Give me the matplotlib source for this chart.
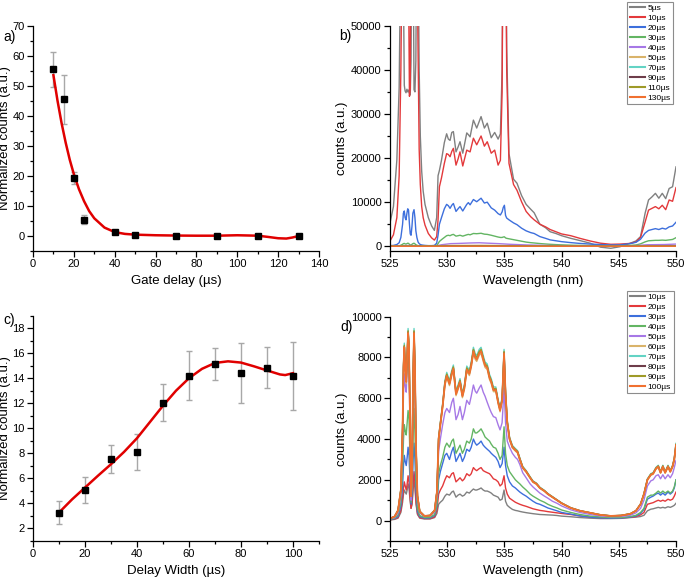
import numpy as np
import matplotlib
matplotlib.use('Agg')
import matplotlib.pyplot as plt
from matplotlib.ticker import MultipleLocator

plt.rcParams['font.family'] = ['Liberation Sans', 'DejaVu Sans']
plt.rcParams['axes.linewidth'] = 0.9

# ---------------- panel a: gate delay ----------------
delay_x = [10, 15, 20, 25, 40, 50, 70, 90, 110, 130]
delay_y = [55.5, 45.5, 19.3, 5.4, 1.3, 0.3, 0.0, 0.0, 0.0, 0.0]
delay_err = [5.8, 8.2, 2.0, 1.6, 0.7, 0.5, 0.4, 0.4, 0.4, 0.4]
# fitted curve
fit_a_x = [10, 12, 14, 16, 18, 20, 22.5, 25, 27.5, 30, 35, 40, 45, 50, 60, 70, 80,
           90, 100, 110, 115, 120, 124, 127, 130]
fit_a_y = [53.5, 45.0, 37.5, 31.0, 25.3, 20.5, 15.5, 11.5, 8.2, 5.8, 2.7, 1.2, 0.6,
           0.35, 0.15, 0.05, 0.0, 0.0, 0.15, 0.0, -0.4, -0.85, -0.95, -0.6, -0.1]

# ---------------- panel c: delay width ----------------
width_x = [10, 20, 30, 40, 50, 60, 70, 80, 90, 100]
width_y = [3.25, 5.05, 7.52, 8.13, 12.05, 14.2, 15.12, 14.45, 14.83, 14.19]
width_err = [0.9, 1.05, 1.12, 1.44, 1.5, 1.98, 1.28, 2.4, 1.64, 2.72]
fit_c_x = [10, 15, 20, 25, 30, 35, 40, 45, 50, 55, 60, 65, 70, 75, 80, 85, 90, 95, 97, 100]
fit_c_y = [3.25, 4.3, 5.25, 6.2, 7.12, 8.1, 9.2, 10.5, 11.8, 13.0, 14.0, 14.75, 15.22,
           15.35, 15.25, 14.95, 14.62, 14.3, 14.25, 14.4]

# ---------------- panel b: spectra vs gate delay ----------------
wl_b = [525.0, 525.3, 525.6, 525.8, 525.95, 526.1, 526.17, 526.25, 526.32, 526.4,
        526.48, 526.55, 526.62, 526.7, 526.77, 526.84, 526.92, 527.0, 527.1, 527.18,
        527.26, 527.35, 527.45, 527.55, 527.65, 527.77, 527.9, 528.06, 528.35, 528.64,
        528.88, 529.08, 529.2, 529.32, 529.5, 529.75, 529.95, 530.1, 530.25, 530.4,
        530.54, 530.77, 530.95, 531.12, 531.36, 531.71, 531.85, 532.0, 532.29, 532.58,
        532.96, 533.25, 533.5, 533.85, 534.15, 534.45, 534.65, 534.8, 534.9, 535.0,
        535.1, 535.2, 535.4, 535.8, 536.1, 536.5, 536.9, 537.3, 537.6, 538.1,
        538.6, 539.0, 539.5, 540.0, 540.8, 541.6, 542.5, 543.4, 544.3, 545.1,
        546.0, 546.5, 546.9, 547.3, 547.6, 547.9, 548.2, 548.5, 548.8, 549.1,
        549.4, 549.7, 550.0]
b_5us = [5300, 9000, 19600, 36000, 70000, 80000, 60000, 36500, 35200, 34800,
         35600, 35000, 35400, 34600, 34300, 42000, 80000, 80000, 35500, 35000,
         42000, 80000, 70000, 40000, 25000, 17000, 12500, 9500, 6500, 4600,
         3600, 6500, 16000, 17200, 19500, 23500, 25500, 24300, 24000, 25800,
         26000, 21400, 22500, 23700, 21100, 25700, 25300, 24800, 28600, 26800,
         29400, 26800, 27900, 24600, 25800, 24300, 25500, 40000, 80000, 90000,
         80000, 45000, 21000, 15200, 14300, 11500, 9500, 8400, 7600, 5000,
         4200, 3300, 2900, 2400, 1800, 1300, 700, -200, -450, -100,
         700, 1200, 2200, 7500, 10500, 11200, 12000, 10900, 12000, 10800,
         13100, 13500, 18000]
b_10us = [1200, 2600, 6500, 16000, 40000, 80000, 90000, 90000, 85000, 80000,
          80000, 75000, 60000, 34000, 36000, 80000, 90000, 90000, 85000, 80000,
          80000, 70000, 45000, 22000, 14000, 9000, 6500, 4800, 2900, 1900,
          1400, 2200, 6000, 13500, 15500, 18800, 21000, 20800, 20300, 21500,
          22200, 18400, 19800, 21400, 18200, 21800, 21600, 21400, 24500, 23000,
          25000, 22700, 23700, 21100, 21800, 18400, 19500, 35000, 80000, 90000,
          75000, 40000, 18800, 14000, 12700, 10100, 7900, 6700, 6000, 5000,
          4400, 3800, 3300, 2800, 2400, 1800, 1200, 700, 450, 500,
          650, 1000, 2000, 5500, 8200, 8600, 9000, 8500, 9300, 8300,
          10500, 10200, 13300]
b_20us = [150, 200, 400, 800, 2000, 5000, 7500, 8000, 6500, 6000,
          7500, 8500, 8200, 5000, 2800, 2500, 4500, 7500, 8300, 6500,
          3500, 2000, 1000, 600, 400, 300, 250, 200, 150, 150,
          200, 700, 2500, 5000, 6500, 8500, 9500, 9200, 8600, 9300,
          9700, 7900, 8500, 9000, 8000, 9500, 9900, 9400, 10600, 10100,
          10900, 9800, 10000, 8700, 8200, 7400, 7100, 7800, 8800, 9300,
          7000, 6400, 6000, 5300, 4900, 4100, 3500, 3100, 2900, 2200,
          1800, 1450, 1250, 1050, 830, 650, 500, 400, 300, 320,
          600, 900, 1600, 3000, 3600, 3800, 4000, 3800, 4100, 3900,
          4400, 4600, 5450]
b_30us = [50, 60, 80, 120, 250, 450, 600, 650, 550, 500,
          600, 700, 650, 450, 300, 300, 450, 600, 700, 550,
          350, 250, 150, 100, 80, 60, 50, 50, 40, 40,
          60, 200, 600, 1100, 1500, 2000, 2400, 2500, 2400, 2600,
          2700, 2300, 2400, 2500, 2300, 2600, 2700, 2600, 2900, 2850,
          2950, 2750, 2700, 2500, 2300, 2100, 2000, 2000, 2100, 2150,
          1900, 1800, 1700, 1500, 1350, 1150, 950, 820, 750, 620,
          520, 450, 380, 320, 250, 200, 150, 120, 100, 110,
          200, 300, 550, 1000, 1250, 1300, 1350, 1350, 1400, 1350,
          1450, 1550, 1950]
wl_b40 = [525, 526.2, 526.6, 527.1, 527.6, 528.9, 529.5, 530.3, 531, 532, 532.8, 533.6,
          534.5, 535.5, 537, 539, 541, 543, 545, 546.5, 547.5, 549, 550]
b_40us = [20, 150, 180, 160, 30, 20, 350, 600, 650, 750, 800, 700,
          600, 450, 300, 180, 120, 80, 90, 150, 350, 400, 500]
wl_low = [525, 527, 530, 533, 536, 540, 545, 548, 550]
b_50us = [10, 40, 180, 220, 120, 60, 40, 100, 150]
b_70us = [5, 20, 90, 110, 60, 30, 20, 50, 80]
b_90us = [0, 10, 50, 60, 30, 15, 10, 30, 40]
b_110us = [0, 5, 30, 35, 20, 10, 5, 15, 20]
b_130us = [0, 0, 10, 15, 10, 5, 0, 5, 10]
labels_b = ['5µs', '10µs', '20µs', '30µs', '40µs', '50µs', '70µs', '90µs', '110µs', '130µs']

# ---------------- panel d: spectra vs delay width ----------------
wl_d = [525.0, 525.4, 525.7, 525.95, 526.1, 526.18, 526.25, 526.33, 526.42, 526.5,
        526.58, 526.66, 526.75, 526.84, 526.93, 527.02, 527.1, 527.18, 527.28, 527.4,
        527.6, 528.0, 528.5, 528.9, 529.1, 529.25, 529.4, 529.6, 529.8, 529.96,
        530.2, 530.4, 530.54, 530.77, 530.95, 531.12, 531.33, 531.5, 531.71, 531.94,
        532.1, 532.29, 532.45, 532.58, 532.8, 532.96, 533.15, 533.31, 533.5, 533.7,
        533.85, 534.04, 534.25, 534.45, 534.62, 534.8, 534.97, 535.1, 535.25, 535.45,
        535.7, 535.96, 536.15, 536.35, 536.6, 536.9, 537.25, 537.5, 537.8, 538.1,
        538.5, 538.8, 539.2, 539.6, 540.0, 540.8, 541.6, 542.5, 543.4, 544.3,
        545.2, 546.0, 546.5, 546.9, 547.2, 547.5, 547.8, 548.0, 548.25, 548.45,
        548.65, 548.85, 549.05, 549.3, 549.5, 549.7, 549.85, 550.0]
d_10us = [30, 60, 120, 400, 900, 1300, 1500, 1400, 1300, 1500,
          1800, 1600, 1000, 600, 800, 1500, 2000, 1600, 800, 300,
          120, 80, 80, 150, 350, 800, 900, 1000, 1200, 1300,
          1250, 1400, 1450, 1150, 1250, 1300, 1200, 1250, 1400, 1350,
          1450, 1550, 1500, 1500, 1550, 1600, 1500, 1450, 1450, 1400,
          1350, 1250, 1200, 1150, 1000, 1050, 1500, 950, 750, 650,
          550, 500, 480, 450, 420, 390, 360, 340, 320, 300,
          290, 280, 270, 250, 220, 190, 150, 120, 100, 100,
          110, 150, 170, 200, 260, 480, 560, 580, 620, 650,
          620, 650, 620, 680, 650, 700, 750, 850]
d_20us = [40, 80, 150, 500, 1100, 1600, 1900, 1700, 1500, 1800,
          2200, 1900, 1200, 600, 900, 1800, 2400, 1900, 900, 350,
          150, 100, 100, 180, 500, 1300, 1500, 1700, 2000, 2200,
          2100, 2300, 2350, 1900, 2000, 2100, 1950, 2050, 2300, 2200,
          2300, 2600, 2500, 2450, 2550, 2600, 2450, 2400, 2350, 2300,
          2200, 2050, 2000, 1900, 1700, 1800, 2200, 1600, 1300, 1100,
          1000, 900, 850, 800, 750, 700, 630, 580, 540, 500,
          470, 440, 410, 380, 350, 300, 230, 170, 150, 140,
          140, 160, 200, 280, 400, 800, 850, 880, 950, 1000,
          950, 1000, 950, 1050, 1000, 1050, 1200, 1400]
d_30us = [50, 100, 200, 700, 1700, 2700, 3200, 2900, 2700, 3100,
          3600, 3200, 2000, 800, 1300, 3000, 3800, 3000, 1400, 450,
          200, 120, 130, 250, 700, 2000, 2400, 2800, 3200, 3300,
          3000, 3400, 3600, 2900, 3100, 3300, 2900, 3100, 3500, 3400,
          3600, 4000, 3800, 3700, 3800, 3900, 3700, 3600, 3500, 3400,
          3300, 3200, 3100, 2900, 2600, 2800, 3600, 2700, 2200, 1900,
          1700, 1600, 1500, 1400, 1300, 1200, 1050, 950, 850, 800,
          700, 620, 550, 480, 400, 320, 230, 170, 140, 120,
          130, 170, 230, 350, 550, 1050, 1150, 1200, 1300, 1350,
          1250, 1350, 1250, 1400, 1300, 1400, 1600, 2000]
d_40us = [60, 120, 280, 900, 2500, 4000, 4700, 4400, 4200, 4800,
          5400, 5000, 3000, 900, 1700, 4200, 5500, 4300, 1900, 600,
          250, 150, 160, 300, 800, 2300, 2700, 3100, 3600, 3800,
          3600, 3900, 4000, 3300, 3500, 3700, 3300, 3500, 3900, 3800,
          4000, 4500, 4300, 4300, 4400, 4500, 4300, 4100, 4000, 3900,
          3750, 3600, 3550, 3300, 3000, 3200, 4600, 3300, 2700, 2400,
          2200, 2000, 1900, 1800, 1650, 1500, 1300, 1200, 1100, 1000,
          900, 800, 700, 620, 520, 400, 300, 220, 180, 150,
          150, 200, 260, 400, 600, 1150, 1250, 1250, 1350, 1450,
          1350, 1450, 1350, 1450, 1350, 1450, 1650, 2000]
d_50us = [80, 150, 380, 1200, 3800, 6300, 7200, 6600, 6300, 7500,
          8300, 7600, 4600, 1000, 2200, 6500, 8600, 7000, 3200, 1000,
          380, 200, 220, 420, 1200, 3400, 4000, 4700, 5300, 5500,
          5300, 5800, 6000, 4950, 5200, 5600, 4950, 5300, 5900, 5700,
          6100, 6650, 6350, 6250, 6500, 6650, 6300, 6100, 5800, 5500,
          5300, 5100, 5050, 4700, 4450, 4800, 6500, 4800, 3900, 3600,
          3300, 3100, 3000, 2750, 2350, 2100, 1800, 1650, 1500, 1350,
          1200, 1100, 950, 850, 720, 530, 400, 300, 230, 190,
          200, 260, 380, 600, 1000, 1700, 1950, 2000, 2200, 2250,
          2050, 2250, 2050, 2250, 2100, 2300, 2600, 2950]
d_100us = [100, 200, 500, 1500, 4500, 7500, 8500, 7500, 6800, 8000,
           9200, 8500, 5000, 1200, 2500, 7000, 9200, 7500, 3500, 1200,
           450, 230, 250, 500, 1400, 4000, 4700, 5600, 6700, 7100,
           6700, 7200, 7450, 6200, 6500, 6800, 6100, 6500, 7400, 7200,
           7600, 8300, 8000, 7900, 8200, 8300, 7900, 7600, 7500, 7000,
           6800, 6400, 6400, 5800, 5400, 5900, 8200, 6200, 4800, 4000,
           3600, 3450, 3350, 3000, 2600, 2400, 2100, 1900, 1800, 1600,
           1450, 1300, 1150, 1000, 850, 620, 480, 380, 280, 230,
           250, 330, 480, 800, 1300, 2000, 2250, 2300, 2550, 2650,
           2350, 2650, 2350, 2650, 2400, 2650, 3000, 3700]
# the 60-90 µs traces sit on the 100 µs one; peak heights (counts at ~532.3 nm)
top_peaks = {'60µs': 8200, '70µs': 8500, '80µs': 8350, '90µs': 8400, '100µs': 8300}
labels_d = ['10µs', '20µs', '30µs', '40µs', '50µs', '60µs', '70µs', '80µs', '90µs', '100µs']

colors = ['#808080', '#e3393b', '#3d6fdc', '#63b563', '#a678e6',
          '#d9b36a', '#63d3c4', '#6e3d4a', '#9e9a28', '#f07030']

fig = plt.figure(figsize=(6.85, 5.81), dpi=100)
W, H = 685.0, 581.0


def add_ax(x0, x1, ytop, ybot):
    return fig.add_axes([x0 / W, 1 - ybot / H, (x1 - x0) / W, (ybot - ytop) / H])


def style(ax, xmaj, xmin, ymaj, ymin):
    for s in ['top', 'right']:
        ax.spines[s].set_visible(False)
    ax.xaxis.set_major_locator(MultipleLocator(xmaj))
    ax.xaxis.set_minor_locator(MultipleLocator(xmin))
    ax.yaxis.set_major_locator(MultipleLocator(ymaj))
    ax.yaxis.set_minor_locator(MultipleLocator(ymin))
    ax.tick_params(which='major', direction='out', length=4, width=0.9, labelsize=8, pad=2)
    ax.tick_params(which='minor', direction='out', length=2.5, width=0.9)


ax_a = add_ax(33, 319, 25.7, 250.7)
ax_b = add_ax(390, 676, 25.7, 250.7)
ax_c = add_ax(33, 319, 315.7, 540.7)
ax_d = add_ax(390, 676, 316.7, 541.0)

# a)
ax_a.errorbar(delay_x, delay_y, yerr=delay_err, fmt='none', ecolor='#a8a8a8',
              elinewidth=1.0, capsize=2.5, capthick=1.0, zorder=1)
ax_a.plot(fit_a_x, fit_a_y, color='#e00000', lw=1.8, zorder=2)
ax_a.plot(delay_x, delay_y, 's', color='black', ms=4.3, zorder=3)
ax_a.set_xlim(0, 140)
ax_a.set_ylim(-5, 70)
style(ax_a, 20, 10, 10, 5)
ax_a.set_xlabel('Gate delay (µs)', fontsize=9.5)
ax_a.set_ylabel('Normalized counts (a.u.)', fontsize=9.5, labelpad=1)

# c)
ax_c.errorbar(width_x, width_y, yerr=width_err, fmt='none', ecolor='#a8a8a8',
              elinewidth=1.0, capsize=2.5, capthick=1.0, zorder=1)
ax_c.plot(fit_c_x, fit_c_y, color='#e00000', lw=1.8, zorder=2)
ax_c.plot(width_x, width_y, 's', color='black', ms=4.3, zorder=3)
ax_c.set_xlim(0, 110)
ax_c.set_ylim(1, 19)
style(ax_c, 20, 10, 2, 1)
ax_c.set_xlabel('Delay Width (µs)', fontsize=9.5)
ax_c.set_ylabel('Normalized counts (a.u.)', fontsize=9.5, labelpad=1)

# b)
series_b = [(wl_b, b_5us), (wl_b, b_10us), (wl_b, b_20us), (wl_b, b_30us),
            (wl_b40, b_40us), (wl_low, b_50us), (wl_low, b_70us), (wl_low, b_90us),
            (wl_low, b_110us), (wl_low, b_130us)]
for (xs, ys), lab, c in zip(series_b, labels_b, colors):
    ax_b.plot(xs, ys, color=c, lw=1.0, label=lab)
ax_b.set_xlim(525, 550)
ax_b.set_ylim(-1000, 50000)
style(ax_b, 5, 2.5, 10000, 5000)
ax_b.set_xlabel('Wavelength (nm)', fontsize=9.5)
ax_b.set_ylabel('counts (a.u.)', fontsize=9.5, labelpad=2)

# d)
series_d = [d_10us, d_20us, d_30us, d_40us, d_50us]
for lab in labels_d[5:]:
    series_d.append(list(np.array(d_100us) * top_peaks[lab] / top_peaks['100µs']))
for ys, lab, c in zip(series_d, labels_d, colors):
    ax_d.plot(wl_d, ys, color=c, lw=1.3 if lab == '100µs' else 1.0, label=lab)
ax_d.set_xlim(525, 550)
ax_d.set_ylim(-1000, 10000)
style(ax_d, 5, 2.5, 2000, 1000)
ax_d.set_xlabel('Wavelength (nm)', fontsize=9.5)
ax_d.set_ylabel('counts (a.u.)', fontsize=9.5, labelpad=2)

for ax, top in [(ax_b, 2), (ax_d, 291)]:
    leg = ax.legend(loc='upper left', bbox_to_anchor=(627 / W, 1 - top / H),
                    bbox_transform=fig.transFigure, fontsize=6, frameon=True,
                    fancybox=False, framealpha=1, edgecolor='#8c8c8c',
                    handlelength=1.9, handletextpad=0.3, labelspacing=0.25,
                    borderpad=0.3, borderaxespad=0)
    leg.get_frame().set_linewidth(0.8)
    for line in leg.get_lines():
        line.set_linewidth(1.5)

for txt, x, y in [('a)', 3, 37), ('b)', 339, 36), ('c)', 3, 320), ('d)', 340, 327)]:
    fig.text(x / W, 1 - y / H, txt, fontsize=10, va='center', ha='left')

fig.savefig('out.png', dpi=100)
